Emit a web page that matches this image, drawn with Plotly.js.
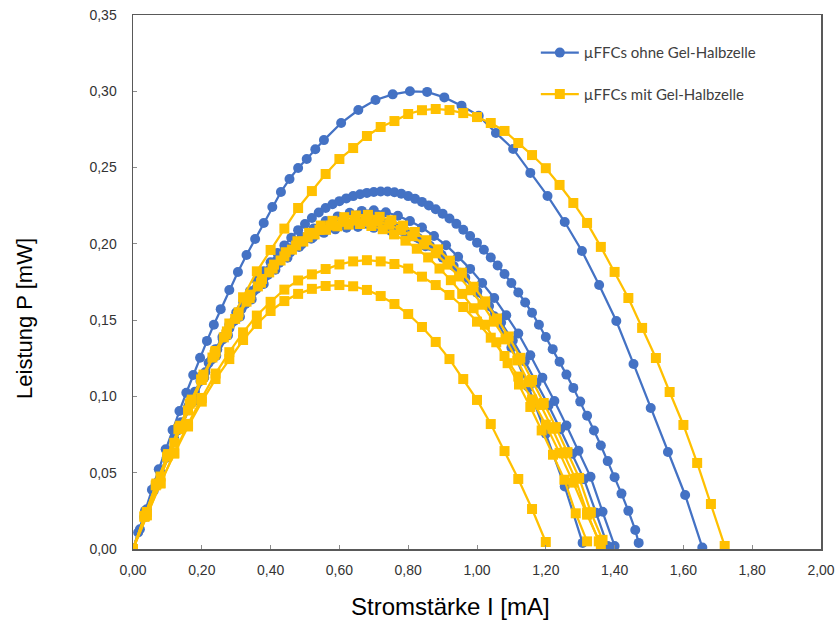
<!DOCTYPE html>
<html><head><meta charset="utf-8">
<script src="https://cdn.plot.ly/plotly-3.0.1.min.js"></script>
<style>body{margin:0;background:#fff}#c{width:838px;height:622px}</style>
</head><body><div id="c"></div>
<script>
// Blue series: µFFCs ohne Gel-Halbzelle
const I_B1=[0,0.015,0.035,0.055,0.075,0.095,0.115,0.135,0.155,0.175,0.195,0.215,0.235,0.255,0.28,0.305,0.33,0.355,0.38,0.405,0.43,0.455,0.48,0.505,0.53,0.555,0.605,0.655,0.705,0.755,0.805,0.855,0.905,0.955,1.005,1.055,1.105,1.155,1.205,1.255,1.305,1.355,1.405,1.455,1.505,1.555,1.605,1.655];
const P_B1=[0,0.0108,0.025,0.0388,0.0522,0.0653,0.078,0.0904,0.1024,0.1141,0.1254,0.1364,0.147,0.1572,0.1698,0.1816,0.1927,0.2032,0.2137,0.2242,0.234,0.2425,0.2497,0.2556,0.262,0.268,0.2792,0.2877,0.2943,0.298,0.300,0.2996,0.296,0.2906,0.284,0.2727,0.2622,0.2465,0.2314,0.2143,0.1953,0.173,0.1494,0.1213,0.0924,0.0636,0.0354,0.001];

const I_B2=[0,0.02,0.04,0.06,0.08,0.10,0.12,0.14,0.16,0.18,0.20,0.22,0.24,0.26,0.28,0.30,0.32,0.34,0.36,0.38,0.40,0.42,0.44,0.46,0.48,0.50,0.52,0.54,0.56,0.58,0.60,0.62,0.64,0.66,0.68,0.70,0.72,0.74,0.76,0.78,0.80,0.82,0.84,0.86,0.88,0.90,0.92,0.94,0.96,0.98,1.00,1.02,1.04,1.06,1.08,1.10,1.12,1.14,1.16,1.18,1.20,1.22,1.24,1.26,1.28,1.30,1.32,1.34,1.36,1.38,1.40,1.42,1.44,1.46,1.47];
const P_B2=[0,0.013,0.026,0.038,0.050,0.061,0.072,0.083,0.093,0.103,0.113,0.122,0.131,0.139,0.147,0.155,0.162,0.169,0.176,0.182,0.188,0.194,0.199,0.204,0.209,0.213,0.217,0.2205,0.2235,0.226,0.228,0.2298,0.2313,0.2325,0.2334,0.234,0.2343,0.2343,0.2338,0.2328,0.2313,0.2295,0.2275,0.2252,0.2227,0.2198,0.2166,0.2131,0.2093,0.2052,0.2008,0.1961,0.1911,0.1858,0.1802,0.1743,0.1681,0.1616,0.1548,0.147,0.139,0.131,0.1228,0.1143,0.1056,0.0966,0.0873,0.0777,0.0678,0.0576,0.0471,0.0363,0.025,0.0125,0.004];

const I_B3=[0,0.035,0.07,0.105,0.14,0.175,0.21,0.245,0.28,0.315,0.35,0.385,0.42,0.455,0.49,0.525,0.56,0.595,0.63,0.665,0.70,0.735,0.77,0.805,0.84,0.875,0.91,0.945,0.98,1.015,1.05,1.085,1.12,1.155,1.19,1.225,1.26,1.295,1.33,1.365,1.40];
const P_B3=[0,0.022,0.0435,0.063,0.0819,0.0992,0.1159,0.1308,0.1445,0.1572,0.1689,0.1794,0.1889,0.1971,0.2045,0.21,0.2149,0.218,0.2204,0.2216,0.222,0.2207,0.2184,0.2149,0.2107,0.2051,0.1991,0.1916,0.1836,0.1743,0.1645,0.1532,0.1412,0.127,0.1123,0.097,0.081,0.0644,0.0473,0.0244,0.002];

const I_B5=[0,0.035,0.069,0.104,0.138,0.173,0.207,0.242,0.276,0.311,0.345,0.38,0.414,0.449,0.483,0.518,0.552,0.587,0.621,0.656,0.69,0.725,0.759,0.794,0.828,0.863,0.897,0.932,0.966,1.001,1.035,1.07,1.104,1.139,1.173,1.208,1.242,1.277,1.311,1.346,1.38];
const P_B5=[0,0.0213,0.0421,0.0611,0.0793,0.0961,0.1122,0.1266,0.14,0.1522,0.1636,0.1737,0.183,0.1909,0.198,0.2034,0.2081,0.2111,0.2135,0.2146,0.215,0.2137,0.2116,0.2081,0.204,0.1987,0.1929,0.1855,0.1778,0.1688,0.1593,0.1484,0.1367,0.123,0.1088,0.094,0.0785,0.0624,0.0458,0.0237,0.002];

const I_B4=[0,0.033,0.065,0.098,0.131,0.163,0.196,0.229,0.261,0.294,0.327,0.359,0.392,0.425,0.457,0.49,0.523,0.555,0.588,0.621,0.654,0.70,0.75,0.80,0.85,0.90,0.95,1.00,1.05,1.10,1.15,1.20,1.255,1.307];
const P_B4=[0,0.0209,0.0414,0.0599,0.0779,0.0943,0.1101,0.1243,0.1374,0.1494,0.1606,0.1705,0.1796,0.1874,0.1943,0.1996,0.2042,0.2072,0.2095,0.2106,0.211,0.2105,0.2085,0.2045,0.1985,0.191,0.181,0.168,0.1525,0.132,0.106,0.0755,0.041,0.004];

// Yellow series: µFFCs mit Gel-Halbzelle
const I_Y1=[0,0.04,0.08,0.12,0.16,0.20,0.24,0.28,0.32,0.36,0.40,0.44,0.48,0.52,0.56,0.60,0.64,0.68,0.72,0.76,0.80,0.84,0.88,0.92,0.96,1.00,1.04,1.08,1.12,1.16,1.20,1.24,1.28,1.32,1.36,1.40,1.44,1.48,1.52,1.56,1.60,1.64,1.68,1.72];
const P_Y1=[0,0.0243,0.0475,0.0696,0.0908,0.1108,0.1298,0.1478,0.165,0.182,0.196,0.21,0.2235,0.2346,0.2458,0.2556,0.2628,0.2707,0.2766,0.2805,0.2851,0.2876,0.2884,0.2877,0.2857,0.2831,0.2792,0.274,0.2661,0.2582,0.2496,0.2386,0.2268,0.2137,0.198,0.1816,0.1645,0.1449,0.1252,0.1029,0.0813,0.0564,0.0295,0.002];

const I_Y2=[0,0.04,0.08,0.12,0.16,0.20,0.24,0.28,0.32,0.36,0.40,0.44,0.48,0.52,0.56,0.60,0.64,0.68,0.72,0.76,0.80,0.84,0.88,0.92,0.96,1.00,1.04,1.08,1.12,1.16,1.20,1.24,1.28,1.32,1.36];
const P_Y2=[0,0.022,0.043,0.063,0.082,0.099,0.115,0.129,0.142,0.153,0.162,0.17,0.176,0.18,0.1835,0.1865,0.1885,0.1893,0.1885,0.1868,0.1838,0.1785,0.173,0.1665,0.1586,0.149,0.1385,0.1265,0.113,0.098,0.0815,0.063,0.0435,0.0225,0.003];

const I_Y3=[0,0.04,0.08,0.12,0.16,0.20,0.24,0.28,0.32,0.36,0.40,0.44,0.48,0.52,0.56,0.60,0.64,0.68,0.72,0.76,0.80,0.84,0.88,0.92,0.96,1.00,1.04,1.08,1.12,1.16,1.20];
const P_Y3=[0,0.0223,0.0431,0.0625,0.0803,0.0966,0.1114,0.1245,0.137,0.1475,0.156,0.1625,0.1672,0.1705,0.1724,0.173,0.1722,0.1698,0.1658,0.1606,0.154,0.1455,0.1357,0.1245,0.1114,0.0977,0.0819,0.0642,0.0459,0.0262,0.0046];

const I_Y4=[0,0.034,0.068,0.102,0.137,0.171,0.205,0.239,0.273,0.307,0.341,0.375,0.41,0.444,0.478,0.512,0.546,0.58,0.614,0.648,0.683,0.717,0.751,0.785,0.819,0.853,0.887,0.921,0.956,0.99,1.024,1.058,1.092,1.126,1.16,1.194,1.229,1.263,1.297,1.331,1.365];
const P_Y4=[0,0.0217,0.0429,0.0622,0.0808,0.0979,0.1143,0.129,0.1426,0.1551,0.1667,0.177,0.1864,0.1945,0.2017,0.2072,0.212,0.2151,0.2175,0.2186,0.219,0.2177,0.2155,0.212,0.2078,0.2024,0.1964,0.189,0.1811,0.1719,0.1623,0.1511,0.1393,0.1253,0.1108,0.0957,0.0799,0.0635,0.0466,0.0241,0.006];

const I_Y5=[0,0.034,0.068,0.102,0.135,0.169,0.203,0.237,0.271,0.305,0.339,0.372,0.406,0.44,0.474,0.508,0.542,0.575,0.609,0.643,0.677,0.711,0.745,0.779,0.812,0.846,0.88,0.914,0.948,0.982,1.016,1.049,1.083,1.117,1.151,1.185,1.219,1.252,1.286,1.32,1.354];
const P_Y5=[0,0.0214,0.0423,0.0613,0.0797,0.0966,0.1128,0.1272,0.1406,0.1529,0.1644,0.1745,0.1838,0.1918,0.1989,0.2043,0.2091,0.2121,0.2145,0.2156,0.216,0.2147,0.2125,0.2091,0.205,0.1996,0.1938,0.1864,0.1786,0.1696,0.1601,0.149,0.1374,0.1236,0.1093,0.0944,0.0788,0.0626,0.046,0.0238,0.005];

const I_Y6=[0,0.033,0.066,0.099,0.132,0.165,0.198,0.231,0.264,0.297,0.33,0.363,0.396,0.429,0.462,0.495,0.528,0.561,0.594,0.627,0.66,0.693,0.726,0.759,0.792,0.825,0.858,0.891,0.924,0.957,0.99,1.023,1.056,1.089,1.122,1.155,1.188,1.221,1.254,1.287,1.32];
const P_Y6=[0,0.0211,0.0417,0.0605,0.0786,0.0952,0.1112,0.1255,0.1387,0.1508,0.1621,0.1721,0.1813,0.1891,0.1962,0.2015,0.2062,0.2092,0.2115,0.2126,0.213,0.2117,0.2096,0.2062,0.2021,0.1968,0.1911,0.1838,0.1762,0.1672,0.1578,0.147,0.1355,0.1218,0.1078,0.0931,0.0777,0.0618,0.0454,0.0234,0.005];

const xTicks=[0,0.2,0.4,0.6,0.8,1.0,1.2,1.4,1.6,1.8,2.0];
const yTicks=[0,0.05,0.10,0.15,0.20,0.25,0.30,0.35];

const BLUE='#4472C4', YELLOW='#FFC000';
const NAME_B='µFFCs ohne Gel-Halbzelle', NAME_Y='µFFCs mit Gel-Halbzelle';
const X_TITLE='Stromstärke I [mA]', Y_TITLE='Leistung P [mW]';

function tr(x,y,color,symbol,name,show,group){
  return {x:x,y:y,type:'scatter',mode:'lines+markers',name:name,legendgroup:group,showlegend:show,
    line:{color:color,width:2.25},marker:{color:color,symbol:symbol,size:10}};
}
const data=[
  tr(I_B1,P_B1,BLUE,'circle',NAME_B,true,'b'),
  tr(I_B2,P_B2,BLUE,'circle',NAME_B,false,'b'),
  tr(I_B3,P_B3,BLUE,'circle',NAME_B,false,'b'),
  tr(I_B5,P_B5,BLUE,'circle',NAME_B,false,'b'),
  tr(I_B4,P_B4,BLUE,'circle',NAME_B,false,'b'),
  tr(I_Y1,P_Y1,YELLOW,'square',NAME_Y,true,'y'),
  tr(I_Y2,P_Y2,YELLOW,'square',NAME_Y,false,'y'),
  tr(I_Y3,P_Y3,YELLOW,'square',NAME_Y,false,'y'),
  tr(I_Y4,P_Y4,YELLOW,'square',NAME_Y,false,'y'),
  tr(I_Y5,P_Y5,YELLOW,'square',NAME_Y,false,'y'),
  tr(I_Y6,P_Y6,YELLOW,'square',NAME_Y,false,'y')
];
const axisCommon={showgrid:false,zeroline:false,showline:true,linecolor:'#595959',linewidth:1.5,mirror:true,
  ticks:'inside',ticklen:4,tickcolor:'#8c8c8c',tickformat:'.2f',
  tickfont:{family:'Liberation Sans, Arial, sans-serif',size:14,color:'#333'}};
const layout={
  width:838,height:622,margin:{l:133,r:17,t:15,b:73},
  separators:',.',paper_bgcolor:'#fff',plot_bgcolor:'#fff',
  xaxis:Object.assign({},axisCommon,{range:[0,2],tickvals:xTicks,ticklabelstandoff:8}),
  yaxis:Object.assign({},axisCommon,{range:[0,0.35],tickvals:yTicks,ticklabelstandoff:12}),
  annotations:[
    {text:X_TITLE,xref:'paper',yref:'paper',x:0.4608,y:-0.1086,xanchor:'center',yanchor:'middle',showarrow:false,
     font:{family:'Liberation Sans, Arial, sans-serif',size:24,color:'#000'}},
    {text:Y_TITLE,xref:'paper',yref:'paper',x:-0.157,y:0.4326,xanchor:'center',yanchor:'middle',textangle:-90,showarrow:false,
     font:{family:'Liberation Sans, Arial, sans-serif',size:22,color:'#000'}}
  ],
  showlegend:true,
  legend:{x:0.5855,y:0.96,xanchor:'left',yanchor:'top',bgcolor:'rgba(0,0,0,0)',tracegroupgap:19,itemwidth:38,
    font:{family:'Lato, sans-serif',size:15,color:'#404040'}}
};
Plotly.newPlot('c',data,layout,{displayModeBar:false,staticPlot:true});
</script></body></html>
